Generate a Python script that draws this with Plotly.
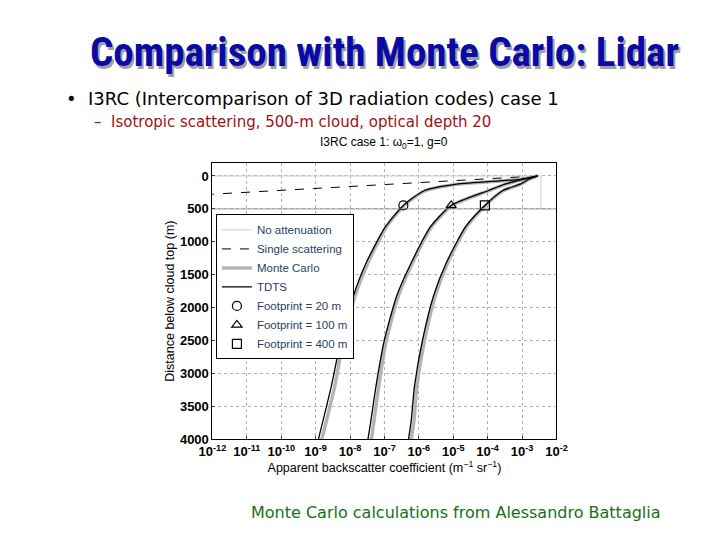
import plotly.graph_objects as go

# log10 of backscatter vs depth (m)
depth = [0, 50, 124, 224, 447, 770, 1317, 1814, 2509, 3205, 3702, 4000]
tdts_20 = [-2.55, -3.05, -4.9, -5.85, -6.45, -6.97, -7.53, -7.9, -8.27, -8.55, -8.78, -8.92]
tdts_100 = [-2.55, -2.95, -3.5, -3.99, -5.06, -5.66, -6.22, -6.64, -7.01, -7.25, -7.39, -7.48]
tdts_400 = [-2.55, -2.8, -3.05, -3.57, -4.08, -4.64, -5.2, -5.57, -5.9, -6.13, -6.22, -6.3]
mc_20 = [-2.55, -3.05, -4.88, -5.82, -6.43, -6.94, -7.48, -7.85, -8.2, -8.45, -8.68, -8.82]
mc_100 = [-2.55, -2.95, -3.48, -3.97, -5.04, -5.63, -6.18, -6.59, -6.95, -7.17, -7.3, -7.38]
mc_400 = [-2.55, -2.8, -3.04, -3.55, -4.06, -4.61, -5.16, -5.52, -5.84, -6.06, -6.14, -6.22]
single_depth = [0, 300]
single_log = [-2.55, -12.8]
marker_depth = 447
marker_log = [-6.45, -5.06, -4.08]
xtick_exp = list(range(-12, -1))

fig = go.Figure()
gray = '#b4b4b4'
fig.add_trace(go.Scatter(x=[10**-12, 10**-2.45, 10**-2.45], y=[0, 0, 500], mode='lines',
                         line=dict(color='#cfcfcf', width=1), name='No attenuation'))
fig.add_trace(go.Scatter(x=[10**v for v in single_log], y=single_depth, mode='lines',
                         line=dict(color='black', width=1, dash='dash'), name='Single scattering'))
for i, mc in enumerate([mc_20, mc_100, mc_400]):
    fig.add_trace(go.Scatter(x=[10**v for v in mc], y=depth, mode='lines',
                             line=dict(color=gray, width=3.5, shape='spline', smoothing=0.6),
                             name='Monte Carlo', showlegend=(i == 0)))
for i, t in enumerate([tdts_20, tdts_100, tdts_400]):
    fig.add_trace(go.Scatter(x=[10**v for v in t], y=depth, mode='lines',
                             line=dict(color='black', width=1.3, shape='spline', smoothing=0.6),
                             name='TDTS', showlegend=(i == 0)))
fig.add_trace(go.Scatter(x=[10**-12, 10**-2], y=[500, 500], mode='lines', line=dict(color='#9a9a9a', width=1),
                         showlegend=False))
labels = ['Footprint = 20 m', 'Footprint = 100 m', 'Footprint = 400 m']
symbols = ['circle-open', 'triangle-up-open', 'square-open']
for lab, sym, v in zip(labels, symbols, marker_log):
    fig.add_trace(go.Scatter(x=[10**v], y=[marker_depth], mode='markers', name=lab,
                             marker=dict(symbol=sym, size=9, color='black', line=dict(width=1.2))))

tickfont = dict(family='Liberation Sans, Arial', size=13, color='black')
axfont = dict(family='Liberation Sans, Arial', size=12.5, color='black')
fig.update_xaxes(type='log', range=[-12, -2], domain=[0.274, 0.769], showline=True, linecolor='black', mirror=True,
                 showgrid=True, gridcolor='#b0b0b0', griddash='dot', ticks='inside', ticklen=3,
                 tickvals=[10**e for e in xtick_exp],
                 ticktext=[f'<b>10<sup>{e}</sup></b>' for e in xtick_exp], tickfont=tickfont,
                 title=dict(text='Apparent backscatter coefficient (m<sup>−1</sup> sr<sup>−1</sup>)',
                            font=axfont, standoff=0),
                 zeroline=False)
fig.update_yaxes(range=[4000, -200], domain=[0.189, 0.709], showline=True, linecolor='black', mirror=True,
                 showgrid=True, gridcolor='#b0b0b0', griddash='dot', ticks='inside', ticklen=3,
                 tickvals=list(range(0, 4001, 500)), ticktext=[f'<b>{v}</b>' for v in range(0, 4001, 500)],
                 tickfont=tickfont, zeroline=False,
                 title=dict(text='Distance below cloud top (m)', font=axfont, standoff=2))

fig.update_layout(
    width=720, height=540, margin=dict(l=0, r=0, t=0, b=0),
    paper_bgcolor='white', plot_bgcolor='white',
    legend=dict(x=0.279, y=0.612, xanchor='left', yanchor='top', bgcolor='white', bordercolor='black', borderwidth=1,
                font=dict(family='Liberation Sans, Arial', size=11.5), tracegroupgap=0, itemwidth=30),
)

title = 'Comparison with Monte Carlo: Lidar'
tfont = 'Liberation Sans Narrow, Arial Narrow, Roboto Condensed, sans-serif'
fig.add_annotation(x=0.525, y=0.912, xref='paper', yref='paper', xanchor='center', yanchor='middle',
                   text=f'<b>{title}</b>', showarrow=False, font=dict(family=tfont, size=41, color='#a0a0a0'))
fig.add_annotation(x=0.521, y=0.918, xref='paper', yref='paper', xanchor='center', yanchor='middle',
                   text=f'<b>{title}</b>', showarrow=False, font=dict(family=tfont, size=41, color='#0a0aa8'))
fig.add_annotation(x=0.06, y=0.83, xref='paper', yref='paper', xanchor='left', yanchor='middle',
                   text='•  I3RC (Intercomparison of 3D radiation codes) case 1', showarrow=False,
                   font=dict(family='DejaVu Sans', size=18, color='black'))
fig.add_annotation(x=0.1, y=0.786, xref='paper', yref='paper', xanchor='left', yanchor='middle',
                   text='–  Isotropic scattering, 500-m cloud, optical depth 20', showarrow=False,
                   font=dict(family='DejaVu Sans', size=15, color='#a01010'))
fig.add_annotation(x=0.521, y=0.746, xref='paper', yref='paper', xanchor='center', yanchor='middle',
                   text='I3RC case 1: ω<sub>0</sub>=1, g=0', showarrow=False,
                   font=dict(family='Liberation Sans, Arial', size=12, color='black'))
fig.add_annotation(x=0.625, y=0.052, xref='paper', yref='paper', xanchor='center', yanchor='middle',
                   text='Monte Carlo calculations from Alessandro Battaglia', showarrow=False,
                   font=dict(family='DejaVu Sans', size=16, color='#167016'))

fig.write_html('out.html')
